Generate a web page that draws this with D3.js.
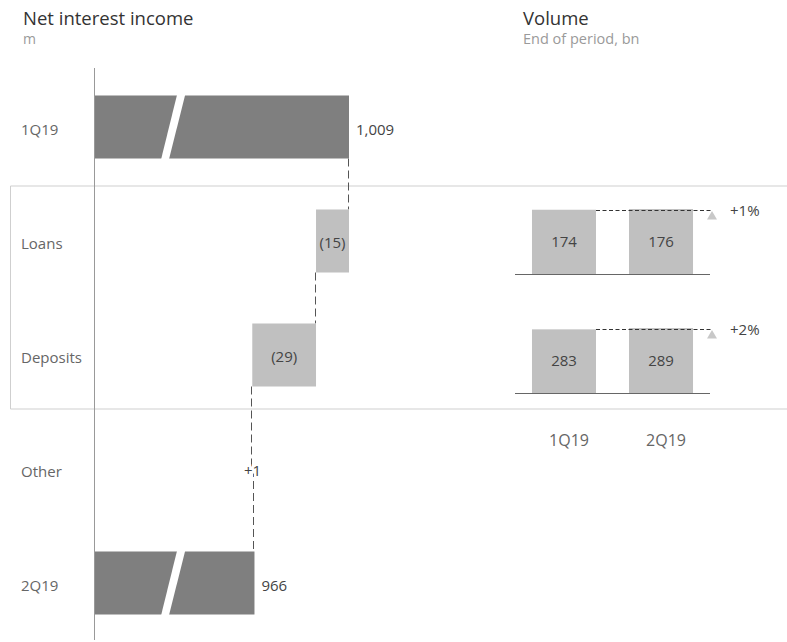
<!DOCTYPE html>
<html>
<head>
<meta charset="utf-8">
<script src="https://cdn.jsdelivr.net/npm/d3@7"></script>
<style>
  html, body { margin: 0; padding: 0; background: #fff; }
  svg { display: block; font-family: "Open Sans", "Noto Sans", sans-serif; }
</style>
</head>
<body>
<svg id="chart" width="787" height="642"></svg>
<script>
// ---- data ----
const categories = ["1Q19", "Loans", "Deposits", "Other", "2Q19"];
const niiValues = [1009, -15, -29, 1, 966];
const niiLabels = ["1,009", "(15)", "(29)", "+1", "966"];
const niiTotals = [true, false, false, false, true];

const volCategories = ["Loans", "Deposits"];
const volPeriods = ["1Q19", "2Q19"];
const vol1Q19 = [174, 283];
const vol2Q19 = [176, 289];
const volChange = ["+1%", "+2%"];

// ---- setup ----
const svg = d3.select("#chart");
const dark = "#7f7f7f", light = "#c0c0c0", txt = "#666", valC = "#444", lineC = "#555";
const fs = 15;

// titles
svg.append("text").attr("x", 23).attr("y", 25).attr("font-size", 18.5).attr("fill", "#333").text("Net interest income");
svg.append("text").attr("x", 23).attr("y", 44).attr("font-size", 14).attr("fill", "#9a9a9a").text("m");
svg.append("text").attr("x", 523).attr("y", 25).attr("font-size", 18.5).attr("fill", "#333").text("Volume");
svg.append("text").attr("x", 523).attr("y", 44).attr("font-size", 14.5).attr("fill", "#9a9a9a").text("End of period, bn");

// scales
const y = d3.scalePoint().domain(categories).range([70, 640]).padding(0.5);
const x = d3.scaleLinear().domain([893, 1009]).range([94, 349]);
const barH = 63;

// box around Loans / Deposits
const boxTop = (y("Loans") + y("1Q19")) / 2 + 2;
const boxBot = (y("Deposits") + y("Other")) / 2 - 3;
svg.append("path")
  .attr("d", `M787,${boxTop}H10.5V${boxBot}H787`)
  .attr("fill", "none").attr("stroke", "#cfcfcf").attr("stroke-width", 1);

// waterfall computation
let running = 0;
const wf = categories.map((c, i) => {
  let start, end;
  if (niiTotals[i]) { start = x.domain()[0]; end = niiValues[i]; running = niiValues[i]; }
  else { start = running; end = running + niiValues[i]; running = end; }
  return { cat: c, start, end, total: niiTotals[i], label: niiLabels[i], value: niiValues[i] };
});

// connectors
for (let i = 0; i < wf.length - 1; i++) {
  const cur = wf[i], nxt = wf[i + 1];
  const y1 = y(cur.cat) + (Math.abs(cur.value) <= 1 && !cur.total ? 0 : barH / 2);
  const y2 = y(nxt.cat) - (Math.abs(nxt.value) <= 1 && !nxt.total ? 0 : barH / 2);
  const xx = Math.round(x(cur.end)) - 0.5;
  svg.append("line")
    .attr("x1", xx).attr("x2", xx)
    .attr("y1", y1).attr("y2", y2)
    .attr("stroke", lineC).attr("stroke-width", 1).attr("stroke-dasharray", "8,4");
}

// bars
const bars = wf.filter(d => Math.abs(d.value) > 1);
svg.selectAll("rect.wf").data(bars).enter().append("rect")
  .attr("class", "wf")
  .attr("x", d => x(Math.min(d.start, d.end)))
  .attr("width", d => Math.abs(x(d.end) - x(d.start)))
  .attr("y", d => y(d.cat) - barH / 2)
  .attr("height", barH)
  .attr("fill", d => d.total ? dark : light);

// axis break slashes on total bars
wf.filter(d => d.total).forEach(d => {
  const t = y(d.cat) - barH / 2 - 1, b = y(d.cat) + barH / 2 + 1;
  svg.append("polygon")
    .attr("points", `${x(930.8)},${t} ${x(934.5)},${t} ${x(927.1)},${b} ${x(923.5)},${b}`)
    .attr("fill", "#fff");
});

// vertical axis line
svg.append("line").attr("x1", 94.5).attr("x2", 94.5).attr("y1", 68).attr("y2", 640)
  .attr("stroke", "#999").attr("stroke-width", 1);

// category labels
svg.selectAll("text.cat").data(categories).enter().append("text")
  .attr("x", 21).attr("y", d => y(d) + 7.5)
  .attr("font-size", fs).attr("fill", txt).text(d => d);

// value labels
wf.forEach(d => {
  const t = svg.append("text").attr("font-size", fs).attr("fill", valC).text(d.label);
  if (d.total) {
    t.attr("x", x(d.end) + 7).attr("y", y(d.cat) + 7.5);
  } else if (Math.abs(d.value) > 1) {
    t.attr("x", (x(d.start) + x(d.end)) / 2).attr("y", y(d.cat) + 6.5).attr("text-anchor", "middle");
  } else {
    t.attr("x", x(d.end) - 2).attr("y", y(d.cat) + 7).attr("text-anchor", "middle")
      .attr("stroke", "#fff").attr("stroke-width", 5).attr("paint-order", "stroke");
  }
});

// ---- volume panel ----
const xv = d3.scaleBand().domain(volPeriods).range([515, 710]).paddingInner(0.34).paddingOuter(0.175);
volCategories.forEach((c, i) => {
  const vals = [vol1Q19[i], vol2Q19[i]];
  const h = d3.scaleLinear().domain([0, d3.max(vals)]).range([0, 65]);
  const base = y(c) + (i === 0 ? 33 : 38);
  svg.selectAll(null).data(volPeriods).enter().append("rect")
    .attr("x", p => xv(p)).attr("width", xv.bandwidth())
    .attr("y", (p, j) => base - h(vals[j])).attr("height", (p, j) => h(vals[j]))
    .attr("fill", light);
  svg.selectAll(null).data(volPeriods).enter().append("text")
    .attr("x", p => xv(p) + xv.bandwidth() / 2).attr("y", base - 27)
    .attr("text-anchor", "middle").attr("font-size", fs).attr("fill", valC)
    .text((p, j) => vals[j]);
  svg.append("line").attr("x1", 515).attr("x2", 710).attr("y1", base + 0.5).attr("y2", base + 0.5)
    .attr("stroke", "#666").attr("stroke-width", 1);
  const topY = base - h(d3.max(vals)) + 1.5;
  svg.append("line").attr("x1", xv("1Q19") + xv.bandwidth()).attr("x2", 713)
    .attr("y1", topY).attr("y2", topY)
    .attr("stroke", "#333").attr("stroke-width", 1).attr("stroke-dasharray", "4,2.5");
  svg.append("path")
    .attr("d", `M712,${topY + 0.5}L717,${topY + 9}L707,${topY + 9}Z`)
    .attr("fill", "#c8c8c8");
  svg.append("text").attr("x", 730).attr("y", topY + 5).attr("font-size", fs).attr("fill", valC).text(volChange[i]);
});

svg.selectAll(null).data(volPeriods).enter().append("text")
  .attr("x", p => xv(p) + xv.bandwidth() / 2 + 5).attr("y", 446)
  .attr("text-anchor", "middle").attr("font-size", 16).attr("fill", txt).text(p => p);
</script>
</body>
</html>
